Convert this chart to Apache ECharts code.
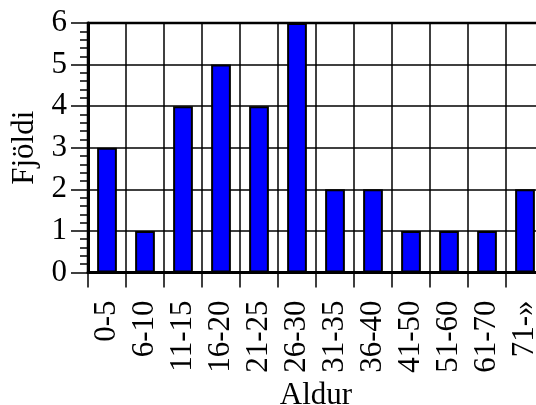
<!DOCTYPE html>
<html><head><meta charset="utf-8">
<script src="https://cdn.jsdelivr.net/npm/echarts@6/dist/echarts.min.js"></script>
<style>html,body{margin:0;padding:0;background:#fff;overflow:hidden}#c{width:544px;height:405px}</style>
</head><body><div id="c"></div>
<script>
const categories = ['0-5','6-10','11-15','16-20','21-25','26-30','31-35','36-40','41-50','51-60','61-70','71-»'];
const counts = [3,1,4,5,4,6,2,2,1,1,1,2];
const yTicks = [0,1,2,3,4,5,6];
const font = '"Liberation Serif", "Times New Roman", serif';
const fs = 31;
const chart = echarts.init(document.getElementById('c'), null, {renderer:'canvas'});
chart.setOption({
  animation:false,
  backgroundColor:'#fff',
  grid:{left:88,right:0,top:23,bottom:132.5,containLabel:false,outerBoundsMode:'none',
    show:true,borderColor:'#000',borderWidth:2.5,backgroundColor:'transparent'},
  xAxis:{
    type:'category', data:categories, boundaryGap:true,
    name:'Aldur', nameLocation:'middle', nameGap:106,
    nameTextStyle:{fontFamily:font,fontSize:fs,color:'#000'},
    axisLine:{lineStyle:{color:'#000',width:3}},
    axisTick:{show:true,length:15,lineStyle:{color:'#000',width:1.5},alignWithLabel:false},
    axisLabel:{rotate:90,fontFamily:font,fontSize:fs,color:'#000',margin:28,interval:0},
    splitLine:{show:true,lineStyle:{color:'#000',width:1.5}}
  },
  yAxis:{
    type:'value', min:0, max:6, interval:1,
    name:'Fjöldi', nameLocation:'middle', nameGap:46,
    nameTextStyle:{fontFamily:font,fontSize:fs,color:'#000'},
    axisLine:{show:true,lineStyle:{color:'#000',width:3}},
    axisTick:{show:true,length:17,lineStyle:{color:'#000',width:1.5}},
    minorTick:{show:true,splitNumber:5,length:8,lineStyle:{color:'#000',width:1.5}},
    axisLabel:{fontFamily:font,fontSize:fs,color:'#000',margin:21,
      formatter:function(v){return yTicks.indexOf(v)>=0?String(v):'';}},
    splitLine:{show:true,lineStyle:{color:'#000',width:1.5}}
  },
  series:[{
    type:'bar', data:counts, barWidth:'52%',
    itemStyle:{color:'#0000ff',borderColor:'#000',borderWidth:2}
  }]
});
</script></body></html>
